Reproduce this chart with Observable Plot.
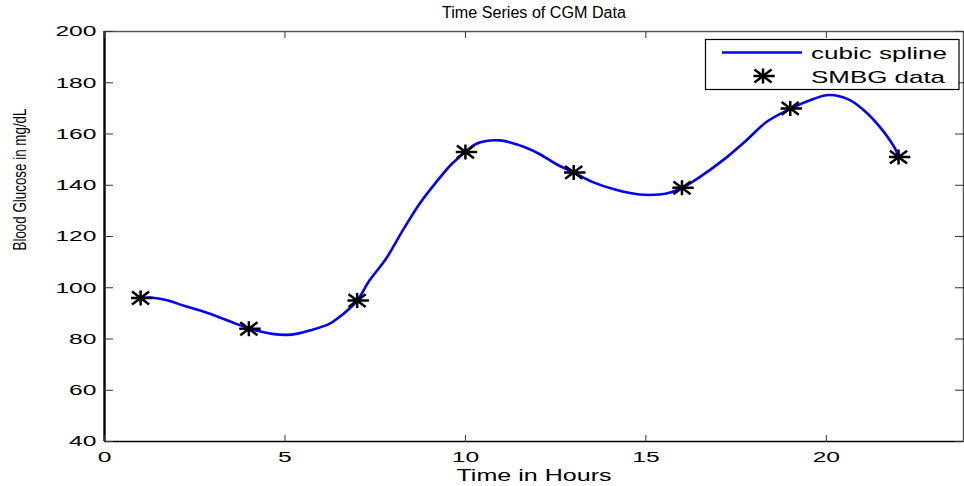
<!DOCTYPE html>
<html>
<head>
<meta charset="utf-8">
<script src="https://cdn.jsdelivr.net/npm/d3@7"></script>
<script src="https://cdn.jsdelivr.net/npm/@observablehq/plot@0.6"></script>
<style>
  html, body { margin: 0; padding: 0; background: #fff; overflow: hidden; }
  #chart { position: relative; width: 964px; height: 486px; }
</style>
</head>
<body>
<div id="chart"></div>
<script>
// SMBG samples (stars)
const smbgHours = [1, 4, 7, 10, 13, 16, 19, 22];
const smbgGlucose = [96, 84, 95, 153, 145, 139, 170, 151];

// cubic spline curve
const splineHours = [1.0, 1.33, 1.7, 2.2, 2.6, 3.05, 3.6, 4.0, 4.29, 4.65, 5.03, 5.35, 5.68, 6.23, 6.6, 7.0, 7.34, 7.8, 8.26, 8.73, 9.19, 9.6, 10.0, 10.29, 10.57, 10.94, 11.22, 11.65, 12.05, 12.51, 13.0, 13.53, 14.17, 14.82, 15.37, 15.7, 16.0, 16.48, 17.13, 17.78, 18.33, 19.0, 19.53, 20.08, 20.64, 21.1, 21.56, 21.93, 22.0];
const splineGlucose = [96, 96.1, 95.2, 93, 91.3, 89.2, 86.2, 84.2, 83.0, 82, 81.6, 82.1, 83.3, 85.9, 89.6, 95, 102.8, 111.3, 122.3, 132.8, 141.2, 148, 153, 156.1, 157.3, 157.5, 156.8, 154.8, 152.2, 148.3, 145, 141.2, 138.2, 136.4, 136.4, 137.3, 139, 143.1, 149.7, 157.5, 164.6, 169.8, 173.1, 175.2, 173.3, 168.5, 161.4, 153.6, 151];

const xTicks = [0, 5, 10, 15, 20];
const yTicks = [40, 60, 80, 100, 120, 140, 160, 180, 200];

const titleText = "Time Series of CGM Data";
const xLabelText = "Time in Hours";
const yLabelText = "Blood Glucose in mg/dL";
const legendLabels = ["cubic spline", "SMBG data"];

const spline = splineHours.map((h, i) => ({hour: h, glucose: splineGlucose[i]}));
const smbg = smbgHours.map((h, i) => ({hour: h, glucose: smbgGlucose[i]}));

// MATLAB-like '*' marker
const star = {
  draw(ctx, size) {
    const s = Math.sqrt(size / Math.PI) / 7;
    ctx.moveTo(0, -7 * s); ctx.lineTo(0, 7 * s);
    ctx.moveTo(-8 * s, -6 * s); ctx.lineTo(8 * s, 6 * s);
    ctx.moveTo(-8 * s, 6 * s); ctx.lineTo(8 * s, -6 * s);
    ctx.moveTo(-9 * s, 0); ctx.lineTo(11 * s, 0);
  }
};

const FONT = "Liberation Sans, Arial, sans-serif";
const xMax = 23.8;

const plot = Plot.plot({
  width: 964,
  height: 486,
  marginLeft: 104,
  marginRight: 1,
  marginTop: 31,
  marginBottom: 45,
  style: {fontFamily: FONT, fontSize: "15px", color: "black", background: "white", overflow: "visible"},
  x: {domain: [0, xMax]},
  y: {domain: [40, 200]},
  marks: [
    // frame
    Plot.ruleY([200], {stroke: "#555", strokeWidth: 1.5}),
    Plot.ruleX([xMax], {stroke: "#555", strokeWidth: 1.5}),
    Plot.ruleX([0], {stroke: "black", strokeWidth: 2.4}),
    Plot.ruleY([40], {stroke: "black", strokeWidth: 1.5}),
    // inward ticks
    Plot.axisX({anchor: "bottom", ticks: xTicks, tickSize: -6, tickFormat: () => "", label: null, stroke: "#333"}),
    Plot.axisX({anchor: "top", ticks: xTicks, tickSize: -6, tickFormat: () => "", label: null, stroke: "#333"}),
    Plot.axisY({anchor: "left", ticks: yTicks, tickSize: -9, tickFormat: () => "", label: null, stroke: "#333"}),
    Plot.axisY({anchor: "right", ticks: yTicks, tickSize: -9, tickFormat: () => "", label: null, stroke: "#333"}),
    // tick labels
    Plot.axisX({anchor: "bottom", ticks: xTicks, tickSize: 0, tickPadding: 10, label: null, fill: "black"}),
    Plot.axisY({anchor: "left", ticks: yTicks, tickSize: 0, tickPadding: 8, label: null, fill: "black"}),
    // data
    Plot.line(spline, {x: "hour", y: "glucose", stroke: "#0000ff", strokeWidth: 2.6, curve: "catmull-rom"}),
    Plot.dot(smbg, {x: "hour", y: "glucose", symbol: star, r: 7.5, fill: "none", stroke: "black", strokeWidth: 2.5}),
    // titles
    Plot.text([titleText], {frameAnchor: "top", dy: -19, fontSize: 16, fill: "black", lineAnchor: "middle"}),
    Plot.text([xLabelText], {frameAnchor: "bottom", dy: 34, fontSize: 16, fill: "black", lineAnchor: "middle"}),
    Plot.text([yLabelText], {frameAnchor: "left", dx: -84, dy: 14, rotate: -90, fontSize: 18, fill: "black", lineAnchor: "middle"})
  ]
});

document.getElementById("chart").appendChild(plot);

const svg = d3.select(plot);

// stretch tick labels horizontally as in the reference
svg.selectAll('g[aria-label="x-axis tick label"] text, g[aria-label="y-axis tick label"] text').each(function() {
  const len = this.getComputedTextLength();
  if (len > 0) {
    this.setAttribute("textLength", (len * 1.64).toFixed(1));
    this.setAttribute("lengthAdjust", "spacingAndGlyphs");
  }
});
const fixLen = (t, L) => {
  svg.selectAll("text").filter(function() { return this.textContent === t; }).each(function() {
    this.setAttribute("textLength", L);
    this.setAttribute("lengthAdjust", "spacingAndGlyphs");
  });
};
fixLen(titleText, 184);
fixLen(xLabelText, 155);
fixLen(yLabelText, 142);

// legend
const lg = svg.append("g").attr("font-family", FONT).attr("text-anchor", "start");
lg.append("rect").attr("x", 705.5).attr("y", 39.5).attr("width", 253.5).attr("height", 50)
  .attr("fill", "white").attr("stroke", "black").attr("stroke-width", 1.2);
lg.append("line").attr("x1", 722).attr("x2", 802).attr("y1", 52.5).attr("y2", 52.5)
  .attr("stroke", "#0000ff").attr("stroke-width", 2.6);
lg.append("path").attr("transform", "translate(763,76)")
  .attr("d", d3.symbol(star, Math.PI * 56)())
  .attr("fill", "none").attr("stroke", "black").attr("stroke-width", 2.5);
lg.append("text").attr("x", 811).attr("y", 59).attr("font-size", 17).attr("fill", "black")
  .attr("text-anchor", "start")
  .attr("textLength", 136).attr("lengthAdjust", "spacingAndGlyphs").text(legendLabels[0]);
lg.append("text").attr("x", 811).attr("y", 82.5).attr("font-size", 17).attr("fill", "black")
  .attr("text-anchor", "start")
  .attr("textLength", 134).attr("lengthAdjust", "spacingAndGlyphs").text(legendLabels[1]);
</script>
</body>
</html>
